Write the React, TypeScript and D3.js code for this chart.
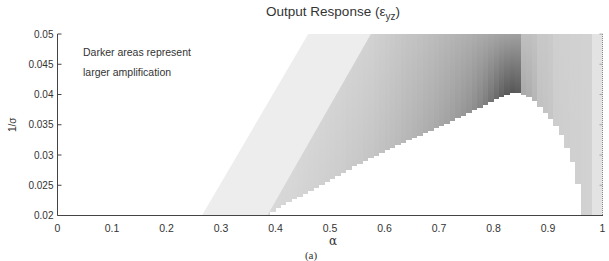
import React from "react";
import * as d3 from "d3";

// ---- data ----
const xTicks = [0, 0.1, 0.2, 0.3, 0.4, 0.5, 0.6, 0.7, 0.8, 0.9, 1];
const xTickLabels = ["0", "0.1", "0.2", "0.3", "0.4", "0.5", "0.6", "0.7", "0.8", "0.9", "1"];
const yTicks = [0.02, 0.025, 0.03, 0.035, 0.04, 0.045, 0.05];
const yTickLabels = ["0.02", "0.025", "0.03", "0.035", "0.04", "0.045", "0.05"];

// outer edge of the amplified region (left boundary)
const outerEdgeA = [0.265, 0.46];
const outerEdgeY = [0.02, 0.05];
// boundary of the second (slightly darker) band
const bandEdgeA = [0.385, 0.575];
const bandEdgeY = [0.02, 0.05];
const baseGray = 237;

// top of the white (non-amplified) region
const whiteA = [0.37, 0.38, 0.39, 0.40, 0.41, 0.42, 0.43, 0.44, 0.45, 0.46, 0.47, 0.48, 0.49, 0.50, 0.51, 0.52, 0.53, 0.54, 0.55, 0.56, 0.57, 0.58, 0.59, 0.60, 0.61, 0.62, 0.63, 0.64, 0.65, 0.66, 0.67, 0.68, 0.69, 0.70, 0.71, 0.72, 0.73, 0.74, 0.75, 0.76, 0.77, 0.78, 0.79, 0.80, 0.81, 0.82, 0.83, 0.84, 0.85, 0.86, 0.87, 0.88, 0.89, 0.90, 0.91, 0.92, 0.93, 0.94, 0.95, 0.96];
const whiteTop = [0.0200, 0.0200, 0.0206, 0.0212, 0.0218, 0.0222, 0.0227, 0.0231, 0.0236, 0.0241, 0.0246, 0.0251, 0.0256, 0.0261, 0.0266, 0.0271, 0.0276, 0.0281, 0.0285, 0.0290, 0.0295, 0.0299, 0.0304, 0.0308, 0.0312, 0.0316, 0.0320, 0.0324, 0.0328, 0.0332, 0.0336, 0.0340, 0.0344, 0.0348, 0.0352, 0.0357, 0.0361, 0.0365, 0.0370, 0.0374, 0.0378, 0.0383, 0.0388, 0.0392, 0.0396, 0.0400, 0.0402, 0.0402, 0.0400, 0.0396, 0.0390, 0.0380, 0.0370, 0.0360, 0.0348, 0.0333, 0.0312, 0.0288, 0.0252, 0.0200];

// column shading (gray level) at the top of the plot and at the white edge
const colA = [0.38, 0.39, 0.40, 0.41, 0.42, 0.43, 0.44, 0.45, 0.46, 0.47, 0.48, 0.49, 0.50, 0.51, 0.52, 0.53, 0.54, 0.55, 0.56, 0.57, 0.58, 0.59, 0.60, 0.61, 0.62, 0.63, 0.64, 0.65, 0.66, 0.67, 0.68, 0.69, 0.70, 0.71, 0.72, 0.73, 0.74, 0.75, 0.76, 0.77, 0.78, 0.79, 0.80, 0.81, 0.82, 0.83, 0.84, 0.85, 0.86, 0.87, 0.88, 0.89, 0.90, 0.91, 0.92, 0.93, 0.94, 0.95, 0.96, 0.97, 0.98, 0.99];
const topShade = [224, 224, 223, 223, 222, 222, 221, 221, 220, 220, 219, 218, 217, 216, 215, 214, 213, 212, 211, 210, 208, 206, 204, 202, 200, 198, 196, 195, 193, 191, 189, 187, 185, 183, 181, 179, 177, 175, 173, 171, 169, 167, 165, 163, 162, 161, 160, 192, 192, 194, 200, 200, 202, 207, 208, 208, 209, 209, 210, 210, 227, 227];
const edgeShade = [216, 216, 215, 214, 214, 213, 212, 211, 210, 209, 208, 207, 206, 205, 204, 202, 201, 200, 198, 197, 195, 193, 191, 189, 187, 184, 182, 179, 177, 174, 172, 169, 166, 163, 159, 155, 151, 147, 141, 134, 126, 116, 106, 97, 90, 86, 90, 170, 174, 182, 194, 196, 198, 205, 206, 207, 208, 208, 209, 210, 227, 227];

const W = 609;
const H = 261;
const FONT = "'Liberation Sans', Arial, Helvetica, sans-serif";

export default function App() {
  const x = d3.scaleLinear().domain([0, 1]).range([57.5, 602.5]);
  const y = d3.scaleLinear().domain([0.02, 0.05]).range([215.5, 34]);
  const gray = (v: number) => d3.rgb(v, v, v).toString();

  const basePoly = [
    [x(outerEdgeA[0]), y(outerEdgeY[0])],
    [x(outerEdgeA[1]), y(outerEdgeY[1])],
    [x(1), y(0.05)],
    [x(1), y(0.02)],
  ];
  const bandPoly = [
    [x(bandEdgeA[0]), y(bandEdgeY[0])],
    [x(bandEdgeA[1]), y(bandEdgeY[1])],
    [x(1), y(0.05)],
    [x(1), y(0.02)],
  ];
  const line = d3.line();
  const whitePts = whiteA.map((a, i) => ({ a, v: whiteTop[i] }));
  const whiteArea = d3
    .area<{ a: number; v: number }>()
    .x((d) => Math.round(x(d.a)))
    .y0(y(0.02) + 0.5)
    .y1((d) => Math.round(y(d.v)))
    .curve(d3.curveStepAfter)(whitePts);

  const edgeAt = (a: number) => {
    const i = whiteA.findIndex((w) => Math.abs(w - a) < 1e-6);
    return i >= 0 ? whiteTop[i] : 0.02;
  };

  return (
    <svg
      width={W}
      height={H}
      style={{ position: "absolute", left: 0, top: 0, background: "#fff" }}
      fontFamily={FONT}
    >
      <defs>
        <clipPath id="bandClip">
          <path d={line(bandPoly as [number, number][]) + "Z"} />
        </clipPath>
        {colA.map((a, i) => (
          <linearGradient
            key={i}
            id={`g${i}`}
            gradientUnits="userSpaceOnUse"
            x1="0"
            x2="0"
            y1={y(edgeAt(a))}
            y2={y(0.05)}
          >
            <stop offset="0" stopColor={gray(edgeShade[i])} />
            <stop offset="1" stopColor={gray(topShade[i])} />
          </linearGradient>
        ))}
      </defs>

      {/* base light region */}
      <path d={line(basePoly as [number, number][]) + "Z"} fill={gray(baseGray)} />

      {/* shaded columns */}
      <g clipPath="url(#bandClip)">
        {colA.map((a, i) => {
          const x0 = Math.round(x(a));
          const x1 = Math.round(x(a + 0.01));
          return (
            <rect
              key={i}
              x={x0}
              y={y(0.05)}
              width={x1 - x0}
              height={y(0.02) - y(0.05)}
              fill={`url(#g${i})`}
              shapeRendering="crispEdges"
            />
          );
        })}
      </g>

      {/* white region */}
      <path d={whiteArea ?? ""} fill="#fff" shapeRendering="crispEdges" />

      {/* right box edge (dotted) */}
      <line x1={x(1)} x2={x(1)} y1={y(0.05)} y2={y(0.02)} stroke="#888" strokeWidth={1} strokeDasharray="1,1" />
      {yTicks.map((t, i) => (
        <line key={"rt" + i} x1={x(1) - 3} x2={x(1)} y1={y(t)} y2={y(t)} stroke="#999" strokeWidth={0.8} />
      ))}

      {/* axes */}
      <line x1={x(0)} x2={x(0)} y1={y(0.05)} y2={y(0.02)} stroke="#444" strokeWidth={1} />
      <line x1={x(0)} x2={x(1) + 0.5} y1={y(0.02)} y2={y(0.02)} stroke="#444" strokeWidth={1} />
      {yTicks.map((t, i) => (
        <g key={"yt" + i}>
          <line x1={x(0)} x2={x(0) + 4} y1={y(t)} y2={y(t)} stroke="#444" strokeWidth={1} />
          <text x={x(0) - 4} y={y(t)} dy="0.35em" textAnchor="end" fontSize={10} fill="#333">
            {yTickLabels[i]}
          </text>
        </g>
      ))}
      {xTicks.map((t, i) => (
        <text key={"xt" + i} x={x(t)} y={232} textAnchor="middle" fontSize={10.5} fill="#333">
          {xTickLabels[i]}
        </text>
      ))}

      {/* labels */}
      <text x={333} y={16} textAnchor="middle" fontSize={13.5} fill="#333">
        Output Response (ε
        <tspan fontSize={10} dy={4}>yz</tspan>
        <tspan dy={-4}>)</tspan>
      </text>
      <text x={333} y={245} textAnchor="middle" fontSize={12} fill="#333" fontFamily="'DejaVu Serif', 'Liberation Serif', serif">
        α
      </text>
      <text x={311} y={259} textAnchor="middle" fontSize={11} fill="#333" fontFamily="'Liberation Serif', 'Times New Roman', serif">
        (a)
      </text>
      <text
        transform={`translate(16,${y(0.035)}) rotate(-90)`}
        textAnchor="middle"
        fontSize={10}
        fill="#333"
      >
        1/σ
      </text>
      <text x={83} y={56} fontSize={10.5} fill="#333">
        Darker areas represent
      </text>
      <text x={83} y={76} fontSize={10.5} fill="#333">
        larger amplification
      </text>
    </svg>
  );
}
